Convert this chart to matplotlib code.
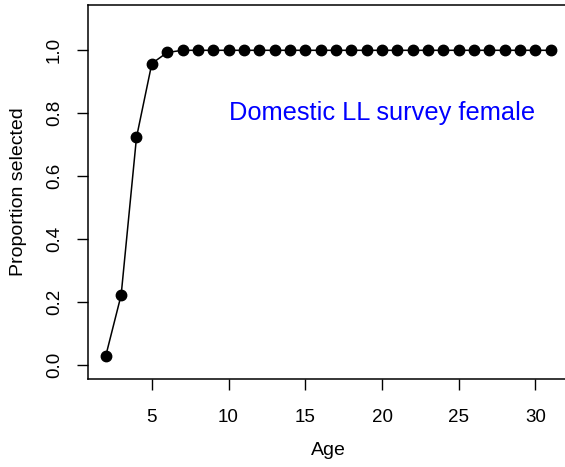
import matplotlib.pyplot as plt
import numpy as np

plt.rcParams['font.family'] = ['Liberation Sans', 'DejaVu Sans']

# selectivity at age
ages = np.arange(2, 32)
selected = [0.029, 0.222, 0.723, 0.958, 0.993] + [1.0] * 25
label = "Domestic LL survey female"

fig = plt.figure(figsize=(5.65, 4.67), dpi=100)
W, H = 565, 467
ax = fig.add_axes([88 / W, 1 - 378.7 / H, (568.6 - 88) / W, (378.7 - 5) / H])

ax.plot(ages, selected, color='black', lw=1.1, marker='o', ms=7.5)
ax.text(20, 0.8, label, color='#0000ff', fontsize=18.3, ha='center', va='center')

ax.set_xlim(2 - 29 * 0.04, 31 + 29 * 0.04)
ax.set_ylim(-0.044, 1.144)
ax.set_xticks([5, 10, 15, 20, 25, 30])
ax.set_yticks([0.0, 0.2, 0.4, 0.6, 0.8, 1.0])
ax.set_yticklabels(['0.0', '0.2', '0.4', '0.6', '0.8', '1.0'], rotation=90, va='center')
ax.tick_params(length=8, width=1, labelsize=13.5, color='black')
ax.tick_params(axis='x', pad=13.5)
ax.tick_params(axis='y', pad=10)

for s in ax.spines.values():
    s.set_linewidth(1.1)

ax.set_xlabel("Age", fontsize=14)
ax.set_ylabel("Proportion selected", fontsize=14)
ax.xaxis.set_label_coords(0.5, (378.7 - 442) / (378.7 - 5))
ax.yaxis.set_label_coords((27 - 88) / (568.6 - 88), 0.5)

fig.savefig("out.png", dpi=100)
